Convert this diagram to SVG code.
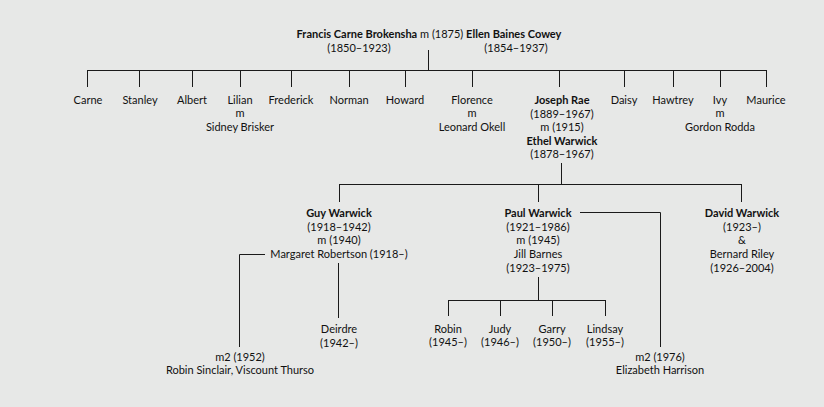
<svg xmlns="http://www.w3.org/2000/svg" width="824" height="407" viewBox="0 0 824 407">
<style>
text{font-family:Lato,"Liberation Sans",sans-serif;font-size:11px;fill:#111;text-anchor:middle}
.b{font-weight:bold}
.c line,.c polyline{stroke:#1a1a1a;stroke-width:1;fill:none}
</style>
<rect width="824" height="407" fill="#e7e8e7"/>
<g class="c" id="connectors">
<line x1="428.5" y1="50" x2="428.5" y2="70"/>
<line x1="87" y1="70.5" x2="767" y2="70.5"/>
<line x1="87.5" y1="70" x2="87.5" y2="87"/>
<line x1="139.5" y1="70" x2="139.5" y2="87"/>
<line x1="192.5" y1="70" x2="192.5" y2="87"/>
<line x1="240.5" y1="70" x2="240.5" y2="87"/>
<line x1="291.5" y1="70" x2="291.5" y2="87"/>
<line x1="349.5" y1="70" x2="349.5" y2="87"/>
<line x1="405.5" y1="70" x2="405.5" y2="87"/>
<line x1="472.5" y1="70" x2="472.5" y2="87"/>
<line x1="559.5" y1="70" x2="559.5" y2="87"/>
<line x1="624.5" y1="70" x2="624.5" y2="87"/>
<line x1="673.5" y1="70" x2="673.5" y2="87"/>
<line x1="720.5" y1="70" x2="720.5" y2="87"/>
<line x1="766.5" y1="70" x2="766.5" y2="87"/>
<line x1="561.5" y1="163" x2="561.5" y2="185"/>
<line x1="339" y1="184.5" x2="742" y2="184.5"/>
<line x1="339.5" y1="184" x2="339.5" y2="202"/>
<line x1="538.5" y1="184" x2="538.5" y2="202"/>
<line x1="741.5" y1="184" x2="741.5" y2="202"/>
<polyline points="265,254.5 239.5,254.5 239.5,347"/>
<line x1="338.5" y1="263" x2="338.5" y2="318"/>
<polyline points="580,212.5 660.5,212.5 660.5,347"/>
<line x1="538.5" y1="277" x2="538.5" y2="300"/>
<line x1="448" y1="300.5" x2="606" y2="300.5"/>
<line x1="448.5" y1="300" x2="448.5" y2="316"/>
<line x1="500.5" y1="300" x2="500.5" y2="316"/>
<line x1="552.5" y1="300" x2="552.5" y2="316"/>
<line x1="605.5" y1="300" x2="605.5" y2="316"/>
</g>
<g id="parents">
<text x="429" y="38"><tspan class="b">Francis Carne Brokensha</tspan> m (1875) <tspan class="b">Ellen Baines Cowey</tspan></text>
<text x="359" y="52">(1850–1923)</text>
<text x="516" y="52">(1854–1937)</text>
</g>
<g id="carne"><text x="88" y="104">Carne</text></g>
<g id="stanley"><text x="140" y="104">Stanley</text></g>
<g id="albert"><text x="192" y="104">Albert</text></g>
<g id="lilian"><text x="240" y="104">Lilian</text><text x="240" y="117">m</text><text x="240" y="131">Sidney Brisker</text></g>
<g id="frederick"><text x="291" y="104">Frederick</text></g>
<g id="norman"><text x="349" y="104">Norman</text></g>
<g id="howard"><text x="405" y="104">Howard</text></g>
<g id="florence"><text x="472" y="104">Florence</text><text x="472" y="117">m</text><text x="472" y="131">Leonard Okell</text></g>
<g id="joseph"><text x="562" y="104" class="b">Joseph Rae</text><text x="562" y="117.5">(1889–1967)</text><text x="562" y="131">m (1915)</text><text x="562" y="144.5" class="b">Ethel Warwick</text><text x="562" y="158">(1878–1967)</text></g>
<g id="daisy"><text x="624" y="104">Daisy</text></g>
<g id="hawtrey"><text x="673" y="104">Hawtrey</text></g>
<g id="ivy"><text x="720" y="104">Ivy</text><text x="720" y="117">m</text><text x="720" y="131">Gordon Rodda</text></g>
<g id="maurice"><text x="766" y="104">Maurice</text></g>
<g id="guy"><text x="339" y="217" class="b">Guy Warwick</text><text x="339" y="231">(1918–1942)</text><text x="339" y="244">m (1940)</text><text x="339" y="258">Margaret Robertson (1918–)</text></g>
<g id="paul"><text x="538" y="217" class="b">Paul Warwick</text><text x="538" y="231">(1921–1986)</text><text x="538" y="244">m (1945)</text><text x="538" y="258">Jill Barnes</text><text x="538" y="272">(1923–1975)</text></g>
<g id="david"><text x="742" y="217" class="b">David Warwick</text><text x="742" y="231">(1923–)</text><text x="742" y="244">&amp;</text><text x="742" y="258">Bernard Riley</text><text x="742" y="272">(1926–2004)</text></g>
<g id="robin-sinclair"><text x="240" y="361">m2 (1952)</text><text x="240" y="374">Robin Sinclair, Viscount Thurso</text></g>
<g id="deirdre"><text x="339" y="333">Deirdre</text><text x="339" y="347">(1942–)</text></g>
<g id="robin"><text x="448" y="333">Robin</text><text x="448" y="346">(1945–)</text></g>
<g id="judy"><text x="500" y="333">Judy</text><text x="500" y="346">(1946–)</text></g>
<g id="garry"><text x="552" y="333">Garry</text><text x="552" y="346">(1950–)</text></g>
<g id="lindsay"><text x="605" y="333">Lindsay</text><text x="605" y="346">(1955–)</text></g>
<g id="elizabeth"><text x="660" y="361">m2 (1976)</text><text x="660" y="374">Elizabeth Harrison</text></g>
</svg>
